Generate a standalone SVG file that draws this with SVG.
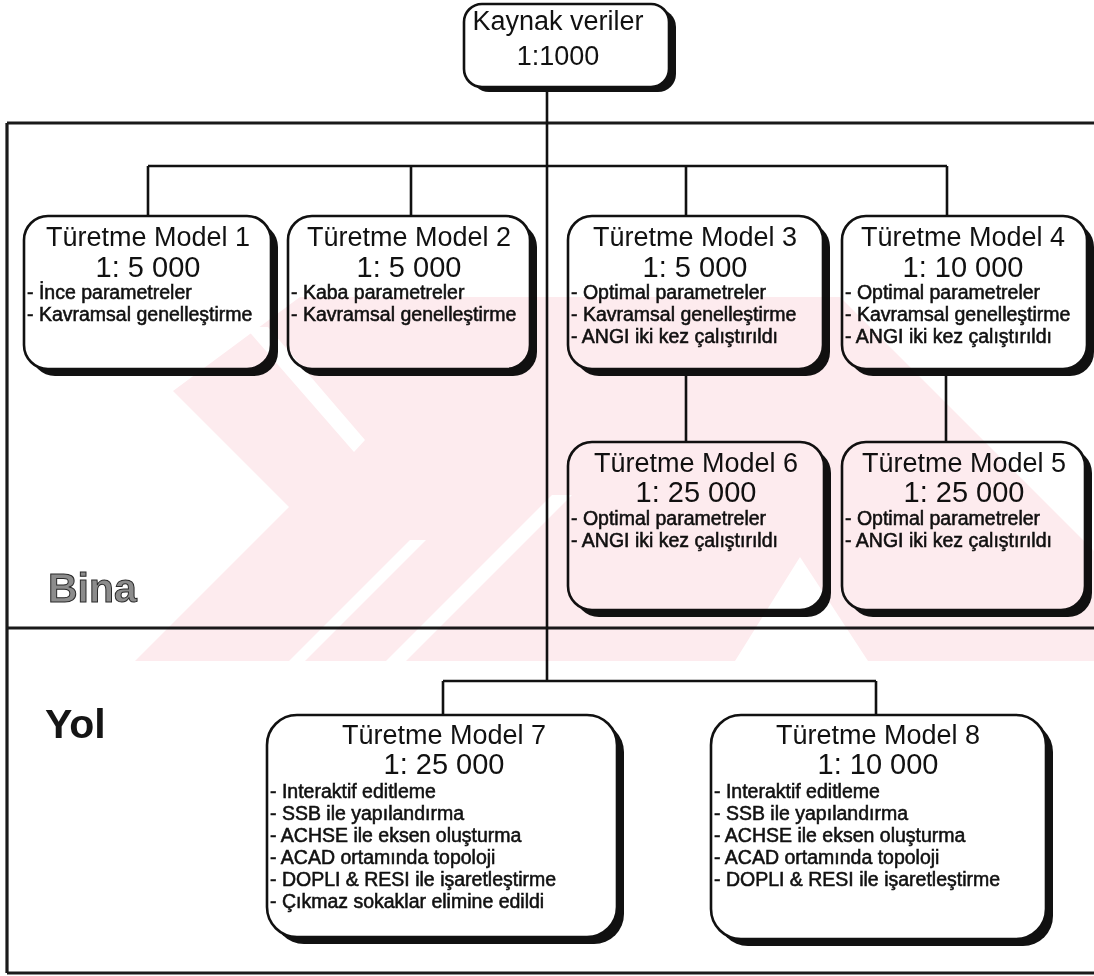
<svg xmlns="http://www.w3.org/2000/svg" width="1094" height="976" viewBox="0 0 1094 976">
  <defs>
    <style>
      .box{fill:#fff;stroke:#111;stroke-width:2.6}
      .shadow{fill:#111}
      .frame{stroke:#1a1a1a;stroke-width:3.2;fill:none}
      .link{stroke:#111;stroke-width:2.6;fill:none}
      .title{font-family:"Liberation Sans",Arial,sans-serif;font-size:27px;fill:#111;text-anchor:middle}
      .scale{font-family:"Liberation Sans",Arial,sans-serif;font-size:29px;fill:#111;text-anchor:middle}
      .item{font-family:"Liberation Sans",Arial,sans-serif;font-size:19.5px;fill:#111;stroke:#111;stroke-width:0.55}
      .section{font-family:"Liberation Sans",Arial,sans-serif;font-weight:bold;font-size:41px}
      .wm{fill:#fdebee}
      .wm-gap{fill:#fff}
    </style>
  </defs>

  <rect width="1094" height="976" fill="#fff"/>

  <!-- section frames -->
  <g id="frames">
    <path class="frame" d="M7 123 H1094 M7 123 V973 M7 628 H1094 M7 973 H1094"/>
    <text id="label-bina" class="section" x="48" y="602" fill="#8c8c8c" stroke="#2a2a2a" stroke-width="1">Bina</text>
    <text id="label-yol" class="section" x="45" y="738" fill="#151515">Yol</text>
  </g>

  <!-- connectors -->
  <g id="connectors">
    <path class="link" d="M547 88 V681"/>
    <path class="link" d="M148 166 H947 M148 166 V216 M411 166 V216 M686 166 V216 M947 166 V216"/>
    <path class="link" d="M686 370 V442 M946 370 V442"/>
    <path class="link" d="M443 681 H876 M443 681 V715 M876 681 V715"/>
  </g>

  <!-- source node -->
  <g id="node-source">
    <rect class="shadow" x="471" y="9" width="205" height="83" rx="18"/>
    <rect class="box" x="464" y="4" width="205" height="83" rx="18"/>
    <text class="title" x="558" y="30">Kaynak veriler</text>
    <text class="title" x="558" y="65">1:1000</text>
  </g>

  <g id="node-m1">
    <rect class="shadow" x="31" y="223" width="247" height="153" rx="24"/>
    <rect class="box" x="24" y="216" width="247" height="153" rx="24"/>
    <text class="title" x="148" y="246">Türetme Model 1</text>
    <text class="scale" x="148" y="277">1: 5 000</text>
    <text class="item" x="27" y="299">- İnce parametreler</text>
    <text class="item" x="27" y="321">- Kavramsal genelleştirme</text>
  </g>

  <g id="node-m2">
    <rect class="shadow" x="295" y="223" width="242" height="153" rx="24"/>
    <rect class="box" x="288" y="216" width="242" height="153" rx="24"/>
    <text class="title" x="409" y="246">Türetme Model 2</text>
    <text class="scale" x="409" y="277">1: 5 000</text>
    <text class="item" x="291" y="299">- Kaba parametreler</text>
    <text class="item" x="291" y="321">- Kavramsal genelleştirme</text>
  </g>

  <g id="node-m3">
    <rect class="shadow" x="575" y="223" width="255" height="153" rx="24"/>
    <rect class="box" x="568" y="216" width="255" height="153" rx="24"/>
    <text class="title" x="695" y="246">Türetme Model 3</text>
    <text class="scale" x="695" y="277">1: 5 000</text>
    <text class="item" x="571" y="299">- Optimal parametreler</text>
    <text class="item" x="571" y="321">- Kavramsal genelleştirme</text>
    <text class="item" x="571" y="343">- ANGI iki kez çalıştırıldı</text>
  </g>

  <g id="node-m4">
    <rect class="shadow" x="849" y="223" width="245" height="153" rx="24"/>
    <rect class="box" x="842" y="216" width="245" height="153" rx="24"/>
    <text class="title" x="963" y="246">Türetme Model 4</text>
    <text class="scale" x="963" y="277">1: 10 000</text>
    <text class="item" x="845" y="299">- Optimal parametreler</text>
    <text class="item" x="845" y="321">- Kavramsal genelleştirme</text>
    <text class="item" x="845" y="343">- ANGI iki kez çalıştırıldı</text>
  </g>

  <g id="node-m6">
    <rect class="shadow" x="575" y="449" width="256" height="168" rx="24"/>
    <rect class="box" x="568" y="442" width="256" height="168" rx="24"/>
    <text class="title" x="696" y="472">Türetme Model 6</text>
    <text class="scale" x="696" y="502">1: 25 000</text>
    <text class="item" x="571" y="525">- Optimal parametreler</text>
    <text class="item" x="571" y="547">- ANGI iki kez çalıştırıldı</text>
  </g>

  <g id="node-m5">
    <rect class="shadow" x="849" y="449" width="243" height="168" rx="24"/>
    <rect class="box" x="842" y="442" width="243" height="168" rx="24"/>
    <text class="title" x="964" y="472">Türetme Model 5</text>
    <text class="scale" x="964" y="502">1: 25 000</text>
    <text class="item" x="845" y="525">- Optimal parametreler</text>
    <text class="item" x="845" y="547">- ANGI iki kez çalıştırıldı</text>
  </g>

  <g id="node-m7">
    <rect class="shadow" x="274" y="722" width="350" height="222" rx="30"/>
    <rect class="box" x="267" y="715" width="350" height="222" rx="30"/>
    <text class="title" x="444" y="744">Türetme Model 7</text>
    <text class="scale" x="444" y="774">1: 25 000</text>
    <text class="item" x="270" y="798">- Interaktif editleme</text>
    <text class="item" x="270" y="820">- SSB ile yapılandırma</text>
    <text class="item" x="270" y="842">- ACHSE ile eksen oluşturma</text>
    <text class="item" x="270" y="864">- ACAD ortamında topoloji</text>
    <text class="item" x="270" y="886">- DOPLI &amp; RESI ile işaretleştirme</text>
    <text class="item" x="270" y="908">- Çıkmaz sokaklar elimine edildi</text>
  </g>

  <g id="node-m8">
    <rect class="shadow" x="718" y="722" width="335" height="224" rx="30"/>
    <rect class="box" x="711" y="715" width="335" height="224" rx="30"/>
    <text class="title" x="878" y="744">Türetme Model 8</text>
    <text class="scale" x="878" y="774">1: 10 000</text>
    <text class="item" x="714" y="798">- Interaktif editleme</text>
    <text class="item" x="714" y="820">- SSB ile yapılandırma</text>
    <text class="item" x="714" y="842">- ACHSE ile eksen oluşturma</text>
    <text class="item" x="714" y="864">- ACAD ortamında topoloji</text>
    <text class="item" x="714" y="886">- DOPLI &amp; RESI ile işaretleştirme</text>
  </g>

  <!-- faint background emblem, multiplied over the page -->
  <g id="emblem" style="mix-blend-mode:multiply">
    <polygon class="wm" points="300,297 840,297 1094,551 1094,661 135,661 289,507 173,391"/>
    <polygon class="wm-gap" points="245,327 268,327 365,440 354,452"/>
    <polygon class="wm-gap" points="552,495 572,495 406,661 386,661"/>
    <polygon class="wm-gap" points="410,540 426,540 305,661 289,661"/>
    <polygon class="wm-gap" points="800,557 868,661 735,661"/>
  </g>
</svg>
